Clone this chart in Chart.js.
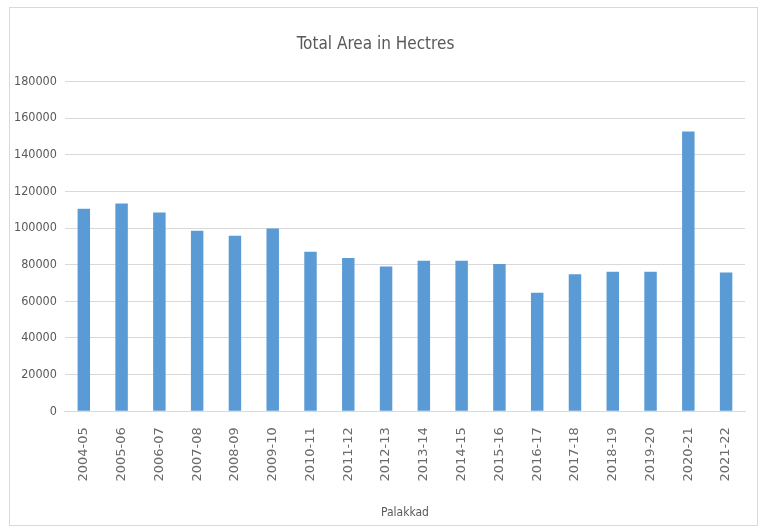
<!DOCTYPE html>
<html>
<head>
<meta charset="utf-8">
<script src="https://cdn.jsdelivr.net/npm/chart.js@4.4.0/dist/chart.umd.min.js"></script>
<style>
  body { margin: 0; background: #fff; }
  #wrap { position: relative; width: 763px; height: 531px; }
  #frame { position: absolute; left: 9px; top: 7px; width: 747px; height: 517px; border: 1px solid #d9d9d9; pointer-events: none; }
</style>
</head>
<body>
<div id="wrap">
  <canvas id="chart" width="763" height="531"></canvas>
  <div id="frame"></div>
</div>
<script>
const years = ['2004-05', '2005-06', '2006-07', '2007-08', '2008-09', '2009-10', '2010-11', '2011-12', '2012-13',
               '2013-14', '2014-15', '2015-16', '2016-17', '2017-18', '2018-19', '2019-20', '2020-21', '2021-22'];
const totalArea = [110500, 113400, 108500, 98500, 95800, 99800, 87000, 83600, 79000,
                   82100, 82100, 80300, 64700, 74800, 76200, 76200, 152700, 75700];
const yTicks = [0, 20000, 40000, 60000, 80000, 100000, 120000, 140000, 160000, 180000];

const narrow = "'DejaVu Sans Condensed', 'Liberation Sans', sans-serif";

new Chart(document.getElementById('chart').getContext('2d'), {
    type: 'bar',
    data: {
        labels: years,
        datasets: [
            { label: 'Palakkad', data: totalArea, backgroundColor: '#5b9bd5', barPercentage: 0.33, categoryPercentage: 1.0 }
        ]
    },
    options: {
        responsive: false,
        animation: false,
        layout: { padding: { left: 6, right: 18, top: 26, bottom: 7 } },
        plugins: {
            legend: { display: false },
            tooltip: { enabled: false },
            title: {
                display: true,
                text: 'Total Area in Hectres',
                color: '#595959',
                font: { family: narrow, size: 17, weight: 'normal' },
                padding: { top: 8, bottom: 27 }
            }
        },
        scales: {
            x: {
                grid: { display: false },
                border: { color: '#d9d9d9' },
                ticks: { color: '#6b6b6b', font: { family: "'DejaVu Sans', sans-serif", size: 13 }, maxRotation: 90, minRotation: 90, padding: 8 },
                title: { display: true, text: 'Palakkad', color: '#595959', font: { family: narrow, size: 12 }, padding: { top: 16 } }
            },
            y: {
                min: 0,
                max: 180000,
                afterBuildTicks: axis => { axis.ticks = yTicks.map(v => ({ value: v })); },
                grid: { color: '#d9d9d9', drawTicks: false },
                border: { display: false },
                ticks: { color: '#595959', font: { family: narrow, size: 12.5 }, padding: 8, callback: v => String(v) }
            }
        }
    }
});
</script>
</body>
</html>
